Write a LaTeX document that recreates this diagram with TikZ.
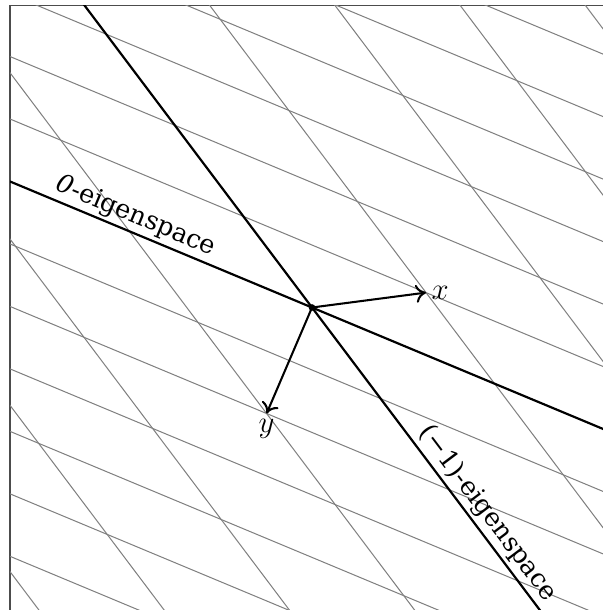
\documentclass[tikz,border=0pt]{standalone}
\usepackage{fontspec}
\setmainfont{DejaVu Serif}
\usetikzlibrary{arrows.meta}
\begin{document}
\begin{tikzpicture}[x=0.39pt, y=-0.39pt,
  gridline/.style={black!50, line width=0.4pt},
  eigenline/.style={black, line width=0.85pt},
  vecarrow/.style={black, line width=0.8pt, -{To[length=4pt,width=7pt]}},
  frameline/.style={black!70, line width=0.6pt},
  eiglabel/.style={sloped, above, inner sep=1pt, font=\fontsize{10}{12}\selectfont},
  veclabel/.style={font=\fontsize{12}{14}\selectfont, inner sep=2pt}]
\useasboundingbox (0,0) rectangle (603,610);
\draw[frameline] (10,5.5) rectangle (620,625);
\begin{scope}
  \clip (10,5.5) rectangle (620,625);
  % lattice frame: x and y are the two basis vectors
  \begin{scope}[shift={(121.68pt,-119.925pt)},
                x={(44.46pt,5.811pt)}, y={(-17.706pt,-41.34pt)}]
    % lines x-y=k and x-2y=k through the integer points
    \foreach \k in {-8,...,8} {
      \draw[gridline] ({\k-12},-12) -- ({\k+12},12);
      \draw[gridline] ({\k-16},-8) -- ({\k+16},8);
    }
    \coordinate (O) at (0,0);
    \coordinate (X) at (1,0);
    \coordinate (Y) at (0,1);
    \coordinate (E0a) at (-8,-4);
    \coordinate (E0b) at (8,4);
    \coordinate (E1a) at (-6,-6);
    \coordinate (E1b) at (6,6);
    % eigenspaces
    \draw[eigenline] (E0a) -- (E0b)
      node[eiglabel, pos=0.375] (lab0) {\textit{0}-eigenspace};
    \draw[eigenline] (E1a) -- (E1b)
      node[eiglabel, pos=0.6975] (lab1) {(−1)-eigenspace};
    % basis vectors
    \draw[vecarrow] (O) -- (X);
    \draw[vecarrow] (O) -- (Y);
    \fill (O) circle[radius=1.3pt];
    \node[veclabel, right] (xl) at (X) {$x$};
    \node[veclabel, below] (yl) at (Y) {$y$};
  \end{scope}
\end{scope}
\end{tikzpicture}
\end{document}
